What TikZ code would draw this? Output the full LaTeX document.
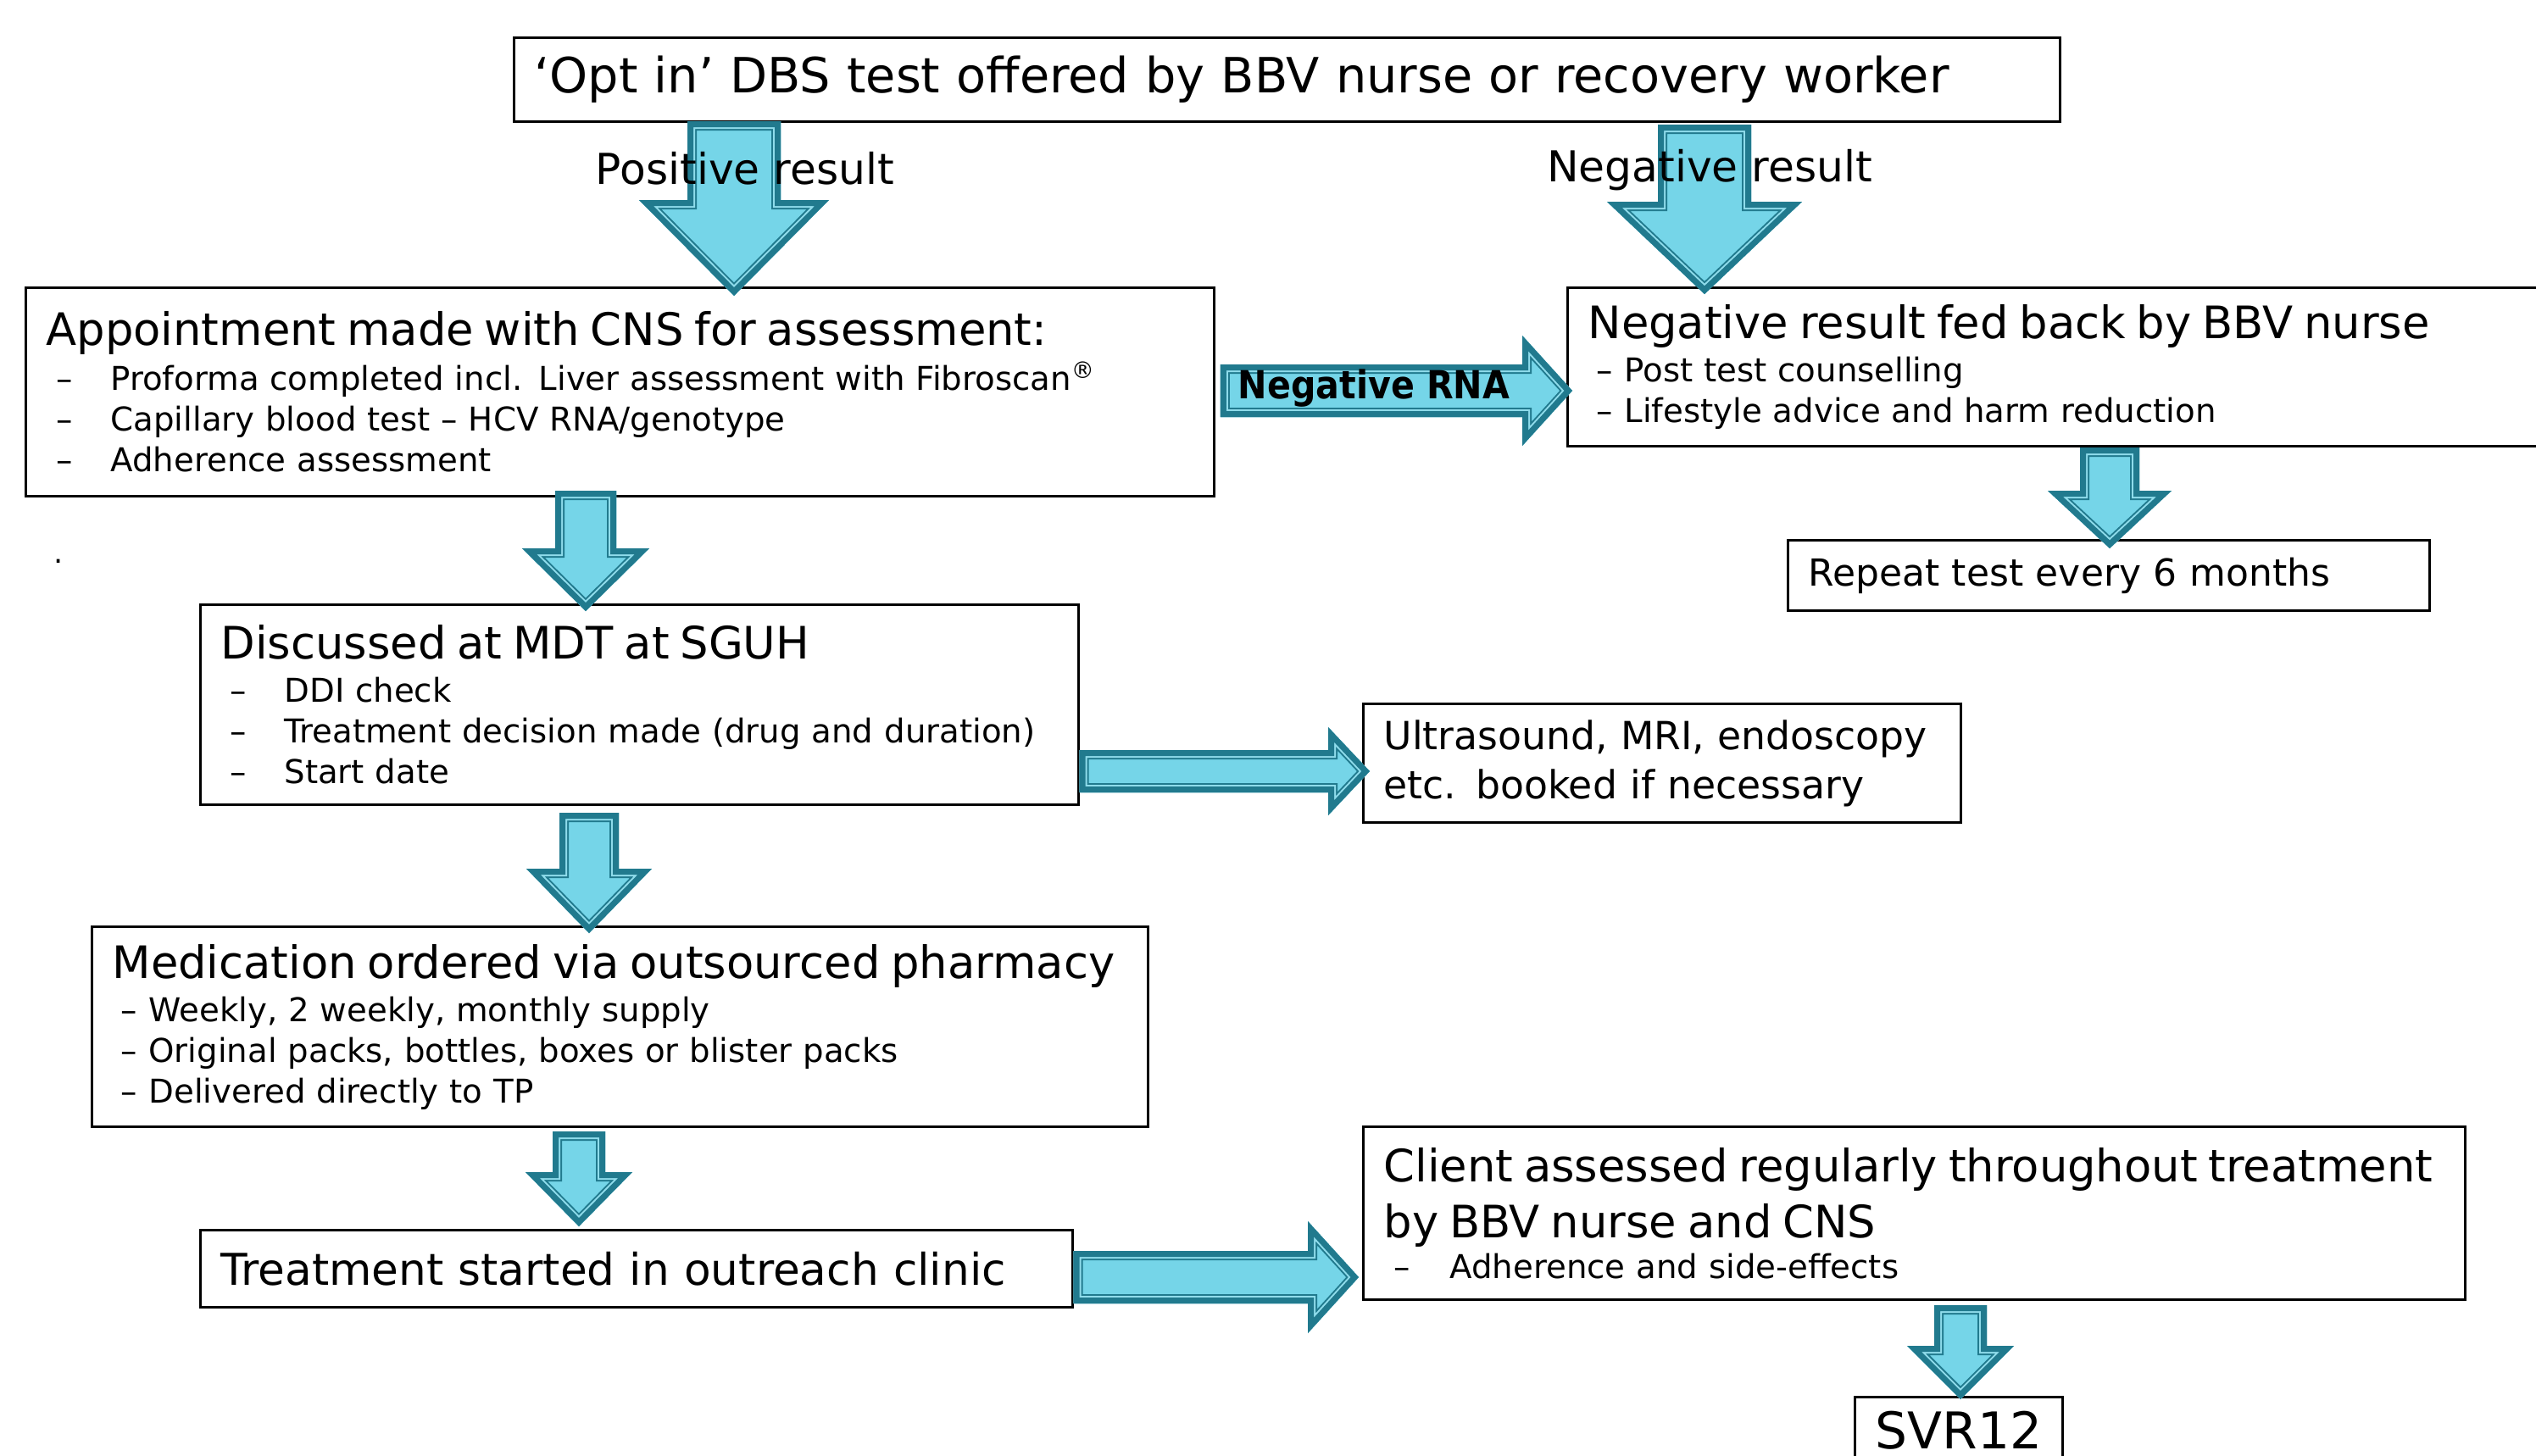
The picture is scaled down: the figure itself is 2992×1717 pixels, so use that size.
\documentclass[tikz,border=0pt]{standalone}
\usepackage{fontspec}
\setmainfont{DejaVu Sans}
\newfontfamily\narrowfont[FakeStretch=0.9]{DejaVu Sans}
\usetikzlibrary{calc,positioning}
\definecolor{arrowfill}{RGB}{117,213,232}
\definecolor{arrowedge}{RGB}{33,122,142}
\definecolor{arrowline}{RGB}{143,220,235}
\newlength{\pxu}\setlength{\pxu}{0.01cm}
\def\dashitem#1#2#3{\hspace*{#1\pxu}\makebox[#2\pxu][l]{–}#3}
\def\hdfont{\fontsize{15}{18}\selectfont}
\def\itfont{\fontsize{11}{13.66}\selectfont}
\def\fatarrow(#1)(#2)(#3:#4:#5){%
	\coordinate (fa-s) at (#1);
	\coordinate (fa-e) at (#2);
	\coordinate (fa-h) at ($(fa-e)!#5*0.01cm!(fa-s)$);
	\def\fapath{($(fa-s)!#3*0.01cm!90:(fa-e)$) -- ($(fa-h)!#3*0.01cm!90:(fa-e)$) -- ($(fa-h)!#4*0.01cm!90:(fa-e)$) -- (fa-e) -- ($(fa-h)!#4*0.01cm!-90:(fa-e)$) -- ($(fa-h)!#3*0.01cm!-90:(fa-e)$) -- ($(fa-s)!#3*0.01cm!-90:(fa-e)$) -- cycle}
	\begin{scope}
		\clip \fapath;
		\fill[arrowfill] \fapath;
		\draw[arrowedge, line width=0.22cm, line join=miter] \fapath;
		\draw[arrowline, line width=0.18cm, line join=miter] \fapath;
		\draw[arrowedge, line width=0.14cm, line join=miter] \fapath;
	\end{scope}}
\tikzset{
	box/.style={draw, line width=0.03cm, fill=white, anchor=north west, align=left, inner xsep=0.24cm, inner ysep=0pt, font=\itfont},
}
\begin{document}
\begin{tikzpicture}[x=0.01cm, y=-0.01cm]
		%%%%% START %%%%%
		\useasboundingbox (0,0) rectangle (2992,1717);
		
		\node[box, minimum height=0.99cm, text width=17.75cm, font=\fontsize{16.3}{20}\selectfont] (title) at (605,43) {‘Opt in’ DBS test offered by BBV nurse or recovery worker};
		
		\node[box, minimum height=2.46cm, text width=13.53cm] (appt) at (29,338) {{\hdfont Appointment made with CNS for assessment:}\\[5\pxu]
			\dashitem{12}{64}{Proforma completed incl. Liver assessment with Fibroscan\textsuperscript{®}}\\
			\dashitem{12}{64}{Capillary blood test – HCV RNA/genotype}\\
			\dashitem{12}{64}{Adherence assessment}};
		
		\node[box, minimum height=1.87cm, text width=11.14cm] (neg) at (1848,338) {{\hdfont Negative result fed back by BBV nurse}\\[3\pxu]
			\dashitem{10}{33}{Post test counselling}\\
			\dashitem{10}{33}{Lifestyle advice and harm reduction}};
		
		\node[box, minimum height=0.83cm, text width=7.09cm, font=\fontsize{12.5}{16}\selectfont] (rep) at (2108,636) {Repeat test every 6 months};
		
		\node (dot) at (69,662) {.};
		
		\node[box, minimum height=2.36cm, text width=9.87cm] (mdt) at (235,712) {{\hdfont Discussed at MDT at SGUH}\\[3\pxu]
			\dashitem{11}{64}{DDI check}\\
			\dashitem{11}{64}{Treatment decision made (drug and duration)}\\
			\dashitem{11}{64}{Start date}\\[6\pxu]};
		
		\node[box, minimum height=1.40cm, text width=6.57cm, font=\fontsize{13}{16.5}\selectfont] (us) at (1607,829) {Ultrasound, MRI, endoscopy\\ etc. booked if necessary};
		
		\node[box, minimum height=2.36cm, text width=11.97cm] (med) at (107,1092) {{\hdfont Medication ordered via outsourced pharmacy}\\[3\pxu]
			\dashitem{10}{33}{Weekly, 2 weekly, monthly supply}\\
			\dashitem{10}{33}{Original packs, bottles, boxes or blister packs}\\
			\dashitem{10}{33}{Delivered directly to TP}};
		
		\node[box, minimum height=0.91cm, text width=9.80cm, font=\fontsize{14.7}{18}\selectfont] (treat) at (235,1450) {Treatment started in outreach clinic};
		
		\node[box, minimum height=2.04cm, text width=12.51cm] (client) at (1607,1328) {{\fontsize{15}{18.8}\selectfont Client assessed regularly throughout treatment\\ by BBV nurse and CNS\par}
			\dashitem{12}{66}{Adherence and side-effects}\\[6\pxu]};
		
		\node[box, anchor=north, align=center, minimum width=2.38cm, inner ysep=0.17cm, font=\fontsize{17}{20}\selectfont] (svr) at (2311,1647) {SVR12};
		
		% connectors
		\coordinate (a1s) at ($(title.south west)+(261,-2)$);
		\coordinate (a1e) at ($(a1s |- appt.north)+(0,11)$);
		\fatarrow(a1s)(a1e)(55:112:113);
		\coordinate (a2s) at ($(title.south west)+(1406,2)$);
		\coordinate (a2e) at ($(a2s |- neg.north)+(0,9)$);
		\fatarrow(a2s)(a2e)(55:115:109);
		
		\coordinate (a3s) at ($(appt.south west)+(662,-8)$);
		\coordinate (a3e) at ($(a3s |- mdt.north)+(0,9)$);
		\fatarrow(a3s)(a3e)(36:75:74);
		\coordinate (a4s) at ($(mdt.south west)+(460,8)$);
		\coordinate (a4e) at ($(a4s |- med.north)+(0,9)$);
		\fatarrow(a4s)(a4e)(35:74:76);
		\coordinate (a5s) at ($(med.south west)+(576,4)$);
		\coordinate (a5e) at ($(a5s |- treat.north)+(0,-3)$);
		\fatarrow(a5s)(a5e)(31:63:64);
		\coordinate (a6s) at ($(neg.south west)+(641,0)$);
		\coordinate (a6e) at ($(a6s |- rep.north)+(0,11)$);
		\fatarrow(a6s)(a6e)(35:73:68);
		
		\coordinate (a7s) at ($(appt.north east)+(6,123)$);
		\coordinate (a7e) at ($(a7s -| neg.west)+(7,0)$);
		\fatarrow(a7s)(a7e)(31:65:59);
		\coordinate (a8s) at ($(mdt.north east)+(0,198)$);
		\coordinate (a8e) at ($(a8s -| us.west)+(9,0)$);
		\fatarrow(a8s)(a8e)(25:52:49);
		\coordinate (a9s) at ($(treat.north east)+(0,57)$);
		\coordinate (a9e) at ($(a9s -| client.west)+(-4,0)$);
		\fatarrow(a9s)(a9e)(31:66:60);
		\coordinate (a10s) at ($(client.south west)+(706,5)$);
		\coordinate (a10e) at ($(a10s |- svr.north)+(0,4)$);
		\fatarrow(a10s)(a10e)(31:63:63);
		
		\node[font=\fontsize{14.3}{18}\selectfont] (poslbl) at (879,199) {Positive result};
		\node[font=\fontsize{14.3}{18}\selectfont] (neglbl) at (2017,201) {Negative result};
		\node[font=\narrowfont\bfseries\fontsize{13}{16}\selectfont] (rnalbl) at (1621,458) {Negative RNA};
		
		%%%%% END %%%%%
\end{tikzpicture}
\end{document}
